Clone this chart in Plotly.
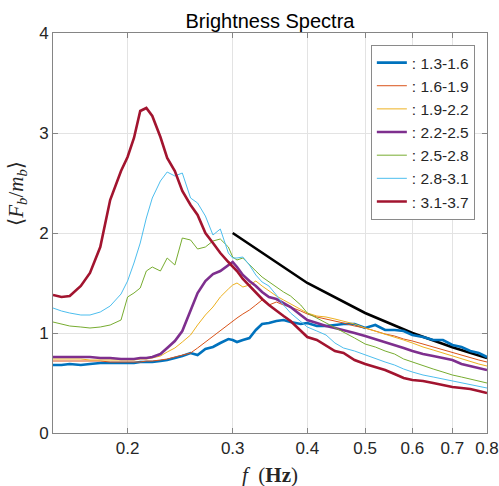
import plotly.graph_objects as go

freq = [0.150, 0.155, 0.160, 0.167, 0.173, 0.180, 0.187, 0.195, 0.200, 0.205,
        0.210, 0.215, 0.220, 0.227, 0.233, 0.240, 0.247, 0.255, 0.262, 0.270,
        0.278, 0.286, 0.295, 0.300, 0.305, 0.312, 0.320, 0.328, 0.336, 0.345,
        0.355, 0.365, 0.375, 0.390, 0.400, 0.415, 0.430, 0.445, 0.460, 0.480,
        0.500, 0.520, 0.540, 0.560, 0.580, 0.600, 0.625, 0.650, 0.675, 0.700,
        0.725, 0.750, 0.775, 0.800]

s_13_16 = [0.68, 0.68, 0.69, 0.68, 0.69, 0.70, 0.70, 0.70, 0.70, 0.70,
           0.71, 0.71, 0.71, 0.72, 0.73, 0.75, 0.77, 0.80, 0.78, 0.84,
           0.86, 0.90, 0.94, 0.93, 0.91, 0.93, 0.95, 1.03, 1.09, 1.10,
           1.12, 1.13, 1.11, 1.09, 1.10, 1.07, 1.07, 1.08, 1.09, 1.09,
           1.05, 1.08, 1.03, 1.03, 1.02, 0.98, 0.96, 0.93, 0.93, 0.88,
           0.86, 0.82, 0.80, 0.76]
s_16_19 = [0.72, 0.72, 0.72, 0.72, 0.72, 0.72, 0.71, 0.71, 0.71, 0.71,
           0.71, 0.72, 0.72, 0.73, 0.74, 0.76, 0.78, 0.80, 0.85, 0.91,
           0.97, 1.02, 1.08, 1.12, 1.15, 1.19, 1.23, 1.28, 1.33, 1.28,
           1.31, 1.28, 1.26, 1.22, 1.19, 1.16, 1.14, 1.12, 1.10, 1.07,
           1.05, 1.02, 0.99, 0.97, 0.94, 0.92, 0.89, 0.86, 0.83, 0.80,
           0.78, 0.75, 0.73, 0.71]
s_19_22 = [0.74, 0.74, 0.74, 0.74, 0.73, 0.73, 0.73, 0.73, 0.73, 0.73,
           0.74, 0.74, 0.75, 0.77, 0.81, 0.85, 0.91, 0.98, 1.08, 1.18,
           1.26, 1.36, 1.44, 1.48, 1.50, 1.46, 1.48, 1.52, 1.47, 1.42,
           1.37, 1.33, 1.29, 1.23, 1.20, 1.17, 1.16, 1.14, 1.12, 1.09,
           1.05, 1.02, 0.99, 0.96, 0.93, 0.90, 0.86, 0.83, 0.80, 0.77,
           0.74, 0.72, 0.69, 0.67]
s_22_25 = [0.76, 0.76, 0.76, 0.76, 0.76, 0.75, 0.75, 0.74, 0.74, 0.74,
           0.75, 0.75, 0.76, 0.79, 0.85, 0.92, 1.02, 1.22, 1.40, 1.52,
           1.59, 1.62, 1.68, 1.71, 1.66, 1.58, 1.52, 1.47, 1.41, 1.36,
           1.34, 1.30, 1.26, 1.18, 1.13, 1.10, 1.07, 1.05, 1.03, 1.00,
           0.97, 0.94, 0.91, 0.88, 0.85, 0.82, 0.79, 0.77, 0.75, 0.73,
           0.69, 0.67, 0.65, 0.63]
s_25_28 = [1.11, 1.09, 1.07, 1.06, 1.05, 1.06, 1.08, 1.13, 1.36, 1.40,
           1.45, 1.62, 1.66, 1.62, 1.75, 1.68, 1.95, 1.93, 1.84, 1.86,
           1.92, 1.94, 1.86, 1.76, 1.73, 1.75, 1.68, 1.62, 1.56, 1.51,
           1.46, 1.41, 1.37, 1.28, 1.20, 1.15, 1.10, 1.06, 1.01, 0.95,
           0.89, 0.86, 0.82, 0.79, 0.74, 0.71, 0.67, 0.64, 0.61, 0.58,
           0.56, 0.54, 0.52, 0.50]
s_28_31 = [1.25, 1.22, 1.20, 1.18, 1.18, 1.21, 1.27, 1.39, 1.52, 1.70,
           1.90, 2.15, 2.35, 2.52, 2.61, 2.57, 2.60, 2.35, 2.30, 2.17,
           1.98, 2.04, 1.80, 1.75, 1.75, 1.76, 1.68, 1.58, 1.51, 1.47,
           1.38, 1.28, 1.20, 1.12, 1.06, 1.02, 0.98, 0.90, 0.85, 0.82,
           0.78, 0.74, 0.71, 0.68, 0.64, 0.61, 0.58, 0.56, 0.54, 0.52,
           0.50, 0.48, 0.47, 0.45]
s_31_37 = [1.38, 1.36, 1.37, 1.47, 1.60, 1.86, 2.33, 2.62, 2.76, 2.95,
           3.22, 3.25, 3.17, 2.96, 2.75, 2.62, 2.42, 2.28, 2.18, 2.00,
           1.90, 1.80, 1.71, 1.66, 1.62, 1.54, 1.47, 1.41, 1.34, 1.28,
           1.22, 1.17, 1.12, 1.02, 0.96, 0.93, 0.87, 0.82, 0.80, 0.73,
           0.69, 0.66, 0.63, 0.59, 0.55, 0.53, 0.52, 0.50, 0.48, 0.46,
           0.45, 0.44, 0.42, 0.40]

labels = [": 1.3-1.6", ": 1.6-1.9", ": 1.9-2.2", ": 2.2-2.5",
          ": 2.5-2.8", ": 2.8-3.1", ": 3.1-3.7"]
series = [s_13_16, s_16_19, s_19_22, s_22_25, s_25_28, s_28_31, s_31_37]
colors = ["#0072BD", "#D95319", "#EDB120", "#7E2F8E", "#77AC30", "#4DBEEE", "#A2142F"]
widths = [2.6, 1.0, 1.0, 2.6, 1.0, 1.0, 2.6]

ref_f = [0.3, 0.4, 0.5, 0.6, 0.7, 0.8]
ref_y = [2.0, 1.5, 1.2, 1.0, 0.857, 0.75]

tick_vals = [0.2, 0.3, 0.4, 0.5, 0.6, 0.7, 0.8]
tick_text = ["0.2", "0.3", "0.4", "0.5", "0.6", "0.7", "0.8"]

fig = go.Figure()
fig.add_trace(go.Scatter(x=ref_f, y=ref_y, mode="lines",
                         line=dict(color="black", width=2.6), showlegend=False))
for s, lab, c, w in zip(series, labels, colors, widths):
    fig.add_trace(go.Scatter(x=freq, y=s, mode="lines", name=lab,
                             line=dict(color=c, width=w)))

axis_col = "#858585"
grid_col = "#e3e3e3"
serif = "Liberation Serif, DejaVu Serif, serif"
fig.update_layout(
    width=499, height=486,
    margin=dict(l=53, r=12, t=33, b=53, autoexpand=False),
    plot_bgcolor="white", paper_bgcolor="white",
    font=dict(family="Liberation Sans, Arial, sans-serif", size=18, color="#262626"),
    title=dict(text="Brightness Spectra", x=0.541, xanchor="center",
               y=0.957, yanchor="middle",
               font=dict(size=20, color="black")),
    xaxis=dict(type="log", range=[-0.8239, -0.09691], automargin=False,
               tickvals=tick_vals, ticktext=tick_text,
               tickfont=dict(size=17),
               showgrid=True, gridcolor=grid_col, gridwidth=1,
               showline=True, linecolor=axis_col, linewidth=1, mirror="ticks",
               ticks="inside", ticklen=5, tickcolor=axis_col, zeroline=False),
    yaxis=dict(range=[0, 4], dtick=1, automargin=False,
               tickfont=dict(size=17),
               showgrid=True, gridcolor=grid_col, gridwidth=1,
               showline=True, linecolor=axis_col, linewidth=1, mirror="ticks",
               ticks="inside", ticklen=5, tickcolor=axis_col, zeroline=False),
    legend=dict(x=0.972, xanchor="right", y=0.97, yanchor="top",
                bgcolor="white", bordercolor="#8a8a8a", borderwidth=1,
                font=dict(size=15.5, color="#262626"),
                itemwidth=30, tracegroupgap=0),
    annotations=[
        dict(x=0.434, y=2.0, xref="x", yref="y", showarrow=False,
             text="<i>F</i><sub><i>b</i></sub> ∼ <i>f</i><sup>−1</sup>",
             font=dict(family=serif, size=20, color="#262626")),
        dict(x=0.5, y=-0.105, xref="paper", yref="paper", showarrow=False,
             xanchor="center", yanchor="middle",
             text="<i>f</i>  (<b>Hz</b>)",
             font=dict(family=serif, size=21, color="#262626")),
        dict(x=-0.083, y=0.6, xref="paper", yref="paper", showarrow=False,
             xanchor="center", yanchor="middle", textangle=-90,
             text="⟨<i>F<sub>b</sub></i>/<i>m<sub>b</sub></i>⟩",
             font=dict(family=serif, size=21, color="#262626")),
    ],
)

fig.write_html("out.html")
